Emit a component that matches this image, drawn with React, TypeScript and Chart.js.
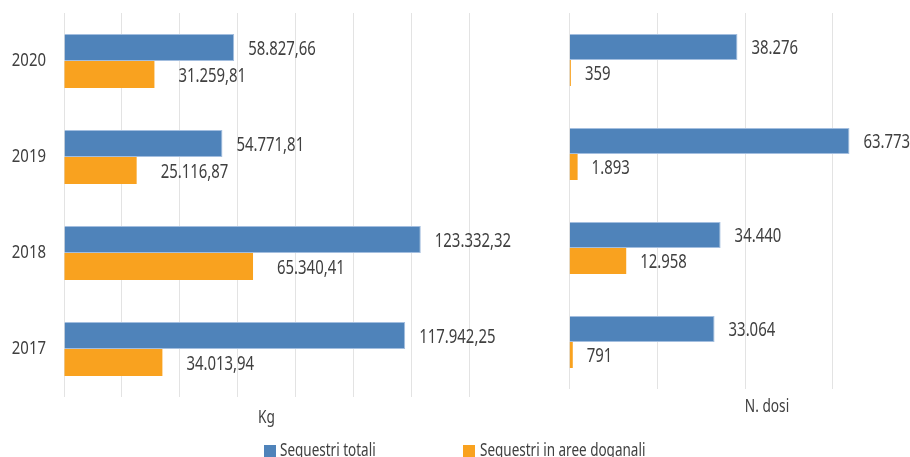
import React, { useEffect, useRef } from "react";
import { Chart, registerables } from "chart.js";

Chart.register(...registerables);

const years = ["2020", "2019", "2018", "2017"];
const seriesNames = ["Sequestri totali", "Sequestri in aree doganali"];
const kgTotali = [58827.66, 54771.81, 123332.32, 117942.25];
const kgDoganali = [31259.81, 25116.87, 65340.41, 34013.94];
const dosiTotali = [38276, 63773, 34440, 33064];
const dosiDoganali = [359, 1893, 12958, 791];
const kgTitle = "Kg";
const dosiTitle = "N. dosi";
const kgMax = 140000;
const dosiMax = 90000;
const gridStep = 20000;

const BLUE = "#4F83BA";
const ORANGE = "#F9A21F";
const TEXT = "#404040";
const GRID = "#e3e3e3";
const FONT = "'Noto Sans', 'Open Sans', sans-serif";

function fmt(v: number, dec: number): string {
  const fixed = v.toFixed(dec);
  const [i, d] = fixed.split(".");
  const int = i.replace(/\B(?=(\d{3})+(?!\d))/g, ".");
  return d ? int + "," + d : int;
}

// draws condensed text (horizontal compression) with alphabetic baseline
function drawText(ctx: CanvasRenderingContext2D, text: string, x: number, y: number, size: number, sx: number, align: CanvasTextAlign) {
  ctx.save();
  ctx.font = `${size}px ${FONT}`;
  ctx.fillStyle = TEXT;
  ctx.textAlign = align;
  ctx.textBaseline = "alphabetic";
  ctx.translate(x, y);
  ctx.scale(sx, 1);
  ctx.fillText(text, 0, 0);
  ctx.restore();
}

const CAP = 0.714;

const textPlugin = {
  id: "textPlugin",
  afterDatasetsDraw(chart: any, _args: any, opts: any) {
    const ctx = chart.ctx;
    const vSize = 19.5;
    chart.data.datasets.forEach((ds: any, di: number) => {
      const meta = chart.getDatasetMeta(di);
      meta.data.forEach((bar: any, i: number) => {
        drawText(ctx, fmt(ds.data[i], opts.decimals), bar.x + opts.gaps[di], bar.y + (CAP * vSize) / 2 + 0.5, vSize, 0.765, "left");
      });
    });
  },
  afterDraw(chart: any, _args: any, opts: any) {
    const ctx = chart.ctx;
    const area = chart.chartArea;
    if (opts.showYears) {
      const y = chart.scales.y;
      const ySize = 18;
      chart.data.labels.forEach((lab: string, i: number) => {
        drawText(ctx, lab, area.left - 18, y.getPixelForValue(i) + (CAP * ySize) / 2 - 1, ySize, 0.83, "right");
      });
    }
    drawText(ctx, opts.title, (area.left + area.right) / 2, area.bottom + opts.titleOffset, 18, 0.76, "center");
  },
};

function makeConfig(
  a: number[],
  b: number[],
  max: number,
  title: string,
  catPct: number,
  showY: boolean,
  padding: any,
  xHeight: number,
  titleOffset: number,
  decimals: number,
  gaps: number[]
): any {
  return {
    type: "bar",
    data: {
      labels: years,
      datasets: [
        {
          label: seriesNames[0],
          data: a,
          backgroundColor: BLUE,
          borderColor: "#A3BEDF",
          borderWidth: 1,
          categoryPercentage: catPct,
          barPercentage: 1,
        },
        {
          label: seriesNames[1],
          data: b,
          backgroundColor: ORANGE,
          borderWidth: 0,
          categoryPercentage: catPct,
          barPercentage: 1,
        },
      ],
    },
    options: {
      indexAxis: "y",
      animation: false,
      responsive: false,
      maintainAspectRatio: false,
      layout: { padding },
      plugins: {
        legend: { display: false },
        tooltip: { enabled: false },
        textPlugin: { gaps, decimals, title, titleOffset, showYears: showY },
      },
      scales: {
        y: {
          display: true,
          grid: { display: false, drawTicks: false },
          border: { display: false },
          ticks: { display: false },
          afterFit: (s: any) => {
            s.width = 64;
          },
        },
        x: {
          min: 0,
          max,
          ticks: { display: false, stepSize: gridStep },
          afterBuildTicks: (s: any) => {
            const t = [];
            for (let v = 0; v <= max; v += gridStep) t.push({ value: v });
            s.ticks = t;
          },
          grid: { color: GRID, lineWidth: 1, drawTicks: false },
          border: { display: false },
          title: { display: false, text: title },
          afterFit: (s: any) => {
            s.height = xHeight;
          },
        },
      },
    },
    plugins: [textPlugin],
  };
}

export default function App() {
  const leftRef = useRef<HTMLCanvasElement>(null);
  const rightRef = useRef<HTMLCanvasElement>(null);

  useEffect(() => {
    const left = new Chart(
      leftRef.current as HTMLCanvasElement,
      makeConfig(kgTotali, kgDoganali, kgMax, kgTitle, 0.5625, true, { top: 13, right: 91, left: 0, bottom: 0 }, 43, 26.3, 2, [14, 24])
    );
    const right = new Chart(
      rightRef.current as HTMLCanvasElement,
      makeConfig(dosiTotali, dosiDoganali, dosiMax, dosiTitle, 0.553, false, { top: 13, right: 15.3, left: 5.3, bottom: 0 }, 51, 23.3, 0, [14, 14])
    );
    return () => {
      left.destroy();
      right.destroy();
    };
  }, []);

  const legendText: React.CSSProperties = {
    position: "absolute",
    top: 440,
    fontFamily: FONT,
    fontSize: 18,
    lineHeight: "18px",
    color: TEXT,
    whiteSpace: "nowrap",
    transform: "scaleX(0.75)",
    transformOrigin: "0 0",
  };

  return (
    <div
      style={{
        position: "fixed",
        left: 0,
        top: 0,
        width: 910,
        height: 457,
        overflow: "hidden",
        background: "#fff",
      }}
    >
      <canvas ref={leftRef} width={560} height={440} style={{ position: "absolute", left: 0, top: 0, width: 560, height: 440 }} />
      <canvas ref={rightRef} width={480} height={440} style={{ position: "absolute", left: 500, top: 0, width: 480, height: 440 }} />
      <div style={{ position: "absolute", left: 264, top: 445, width: 12, height: 12, background: BLUE }} />
      <div style={{ ...legendText, left: 280 }}>{seriesNames[0]}</div>
      <div style={{ position: "absolute", left: 463, top: 445, width: 12, height: 12, background: ORANGE }} />
      <div style={{ ...legendText, left: 480 }}>{seriesNames[1]}</div>
    </div>
  );
}
